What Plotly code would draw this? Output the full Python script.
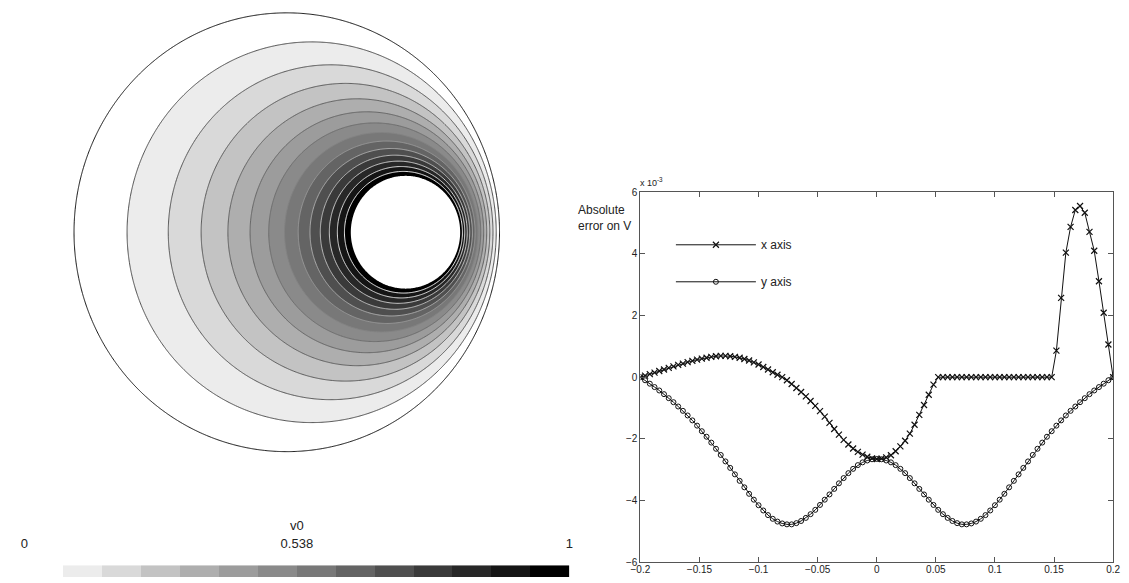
import numpy as np
import plotly.graph_objects as go

# ---------------- right panel data (error values in units of 1e-3) ----------------
x_pos = [-0.200, -0.196, -0.192, -0.188, -0.184, -0.180, -0.176, -0.172, -0.168, -0.164,
         -0.160, -0.156, -0.152, -0.148, -0.144, -0.140, -0.136, -0.132, -0.128, -0.124,
         -0.120, -0.116, -0.112, -0.108, -0.104, -0.100, -0.096, -0.092, -0.088, -0.084,
         -0.080, -0.076, -0.072, -0.068, -0.064, -0.060, -0.056, -0.052, -0.048, -0.044,
         -0.040, -0.036, -0.032, -0.028, -0.024, -0.020, -0.016, -0.012, -0.008, -0.004,
         0.000, 0.004, 0.008, 0.012, 0.016, 0.020, 0.024, 0.028, 0.032, 0.036,
         0.040, 0.044, 0.048, 0.052, 0.056, 0.060, 0.064, 0.068, 0.072, 0.076,
         0.080, 0.084, 0.088, 0.092, 0.096, 0.100, 0.104, 0.108, 0.112, 0.116,
         0.120, 0.124, 0.128, 0.132, 0.136, 0.140, 0.144, 0.148, 0.152, 0.156,
         0.160, 0.164, 0.168, 0.172, 0.176, 0.180, 0.184, 0.188, 0.192, 0.196,
         0.200]

err_x_axis = [0.00, 0.05, 0.10, 0.15, 0.20, 0.25, 0.30, 0.35, 0.40, 0.44,
              0.49, 0.53, 0.57, 0.60, 0.63, 0.66, 0.68, 0.69, 0.69, 0.68,
              0.66, 0.63, 0.59, 0.54, 0.48, 0.41, 0.33, 0.25, 0.16, 0.08,
              0.00, -0.10, -0.22, -0.35, -0.48, -0.62, -0.77, -0.93, -1.10, -1.28,
              -1.48, -1.68, -1.86, -2.03, -2.18, -2.31, -2.42, -2.51, -2.58, -2.63,
              -2.65, -2.64, -2.60, -2.53, -2.40, -2.24, -2.06, -1.83, -1.54, -1.22,
              -0.90, -0.57, -0.24, 0.00, 0.00, 0.00, 0.00, 0.00, 0.00, 0.00,
              0.00, 0.00, 0.00, 0.00, 0.00, 0.00, 0.00, 0.00, 0.00, 0.00,
              0.00, 0.00, 0.00, 0.00, 0.00, 0.00, 0.00, 0.00, 0.86, 2.57,
              4.04, 4.87, 5.42, 5.55, 5.33, 4.71, 4.10, 3.11, 2.09, 1.06,
              0.00]

err_y_axis = [0.00, -0.10, -0.21, -0.32, -0.43, -0.55, -0.68, -0.81, -0.95, -1.09,
              -1.24, -1.40, -1.57, -1.75, -1.93, -2.12, -2.32, -2.52, -2.73, -2.94,
              -3.15, -3.36, -3.57, -3.78, -3.97, -4.15, -4.32, -4.47, -4.59, -4.68,
              -4.74, -4.77, -4.77, -4.73, -4.66, -4.56, -4.44, -4.30, -4.14, -3.97,
              -3.80, -3.62, -3.44, -3.27, -3.11, -2.97, -2.85, -2.76, -2.70, -2.66,
              -2.65, -2.66, -2.70, -2.76, -2.85, -2.97, -3.11, -3.27, -3.44, -3.62,
              -3.80, -3.97, -4.14, -4.30, -4.44, -4.56, -4.66, -4.73, -4.77, -4.77,
              -4.74, -4.68, -4.59, -4.47, -4.32, -4.15, -3.97, -3.78, -3.57, -3.36,
              -3.15, -2.94, -2.73, -2.52, -2.32, -2.12, -1.93, -1.75, -1.57, -1.40,
              -1.24, -1.09, -0.95, -0.81, -0.68, -0.55, -0.43, -0.32, -0.21, -0.10,
              0.00]

series_names = ["x axis", "y axis"]
x_ticks = [-0.2, -0.15, -0.1, -0.05, 0, 0.05, 0.1, 0.15, 0.2]
y_ticks = [-6, -4, -2, 0, 2, 4, 6]

# ---------------- left panel: v0 field between eccentric circles ----------------
outer_radius = 1.0
inner_center = 0.558
inner_radius = 0.257
n_bands = 14
band_greys = ["#ffffff", "#ececec", "#d9d9d9", "#c3c3c3", "#aeaeae", "#9c9c9c", "#8a8a8a",
              "#787878", "#646464", "#4f4f4f", "#3a3a3a", "#272727", "#151515", "#000000"]
cbar_tick_vals = [0, 0.5, 1]
cbar_tick_text = ["0", "0.538", "1"]
cbar_title = "v0"

FONT = "Liberation Sans, Arial, sans-serif"

# Bipolar (Apollonius) potential: harmonic, 0 on outer circle, 1 on inner circle
s = (outer_radius ** 2 + inner_center ** 2 - inner_radius ** 2) / inner_center
p = (s - np.sqrt(s * s - 4 * outer_radius ** 2)) / 2
q = outer_radius ** 2 / p
g = np.linspace(-1.02, 1.02, 481)
X, Y = np.meshgrid(g, g)
phi = np.log(np.hypot(X - p, Y) / np.hypot(X - q, Y))
phi_out = np.log((outer_radius + p) / (outer_radius + q))
xi = inner_center - inner_radius
phi_in = np.log(abs(xi - p) / abs(xi - q))
v0 = np.clip((phi - phi_out) / (phi_in - phi_out), -1.0, 3.0).astype(np.float32)

cs = 1.0 / n_bands
fill_colors = ["#ffffff"] + band_greys + ["#ffffff"]
nfill = len(fill_colors)
fill_scale = [[j / (nfill - 1), c] for j, c in enumerate(fill_colors)]

fig = go.Figure()
fig.add_trace(go.Contour(
    x=g, y=g, z=v0, xaxis="x", yaxis="y",
    contours=dict(start=0, end=1, size=cs, coloring="fill", showlines=False),
    colorscale=fill_scale, showscale=False, hoverinfo="skip", line=dict(width=0),
))
fig.add_trace(go.Contour(
    x=g, y=g, z=v0, xaxis="x", yaxis="y",
    contours=dict(start=0, end=1 - cs, size=cs, coloring="lines"),
    colorscale=[[0, "#111111"], [1 / (n_bands - 1), "#4a4a4a"], [0.45, "#6a6a6a"],
                [0.7, "#b0b0b0"], [1, "#f4f4f4"]],
    showscale=False, hoverinfo="skip", line=dict(width=1),
))

# colour bar drawn as a heatmap strip
cb_scale = []
for k, c in enumerate(band_greys):
    cb_scale += [[k / n_bands, c], [(k + 1) / n_bands, c]]
fig.add_trace(go.Heatmap(
    z=[list(range(n_bands))], x=[(k + 0.5) / n_bands for k in range(n_bands)], y=[0],
    colorscale=cb_scale, zmin=-0.5, zmax=n_bands - 0.5, showscale=False,
    xaxis="x3", yaxis="y3", hoverinfo="skip",
))

# error curves
fig.add_trace(go.Scatter(
    x=x_pos, y=err_x_axis, name=series_names[0], mode="lines+markers",
    line=dict(color="#111111", width=1),
    marker=dict(symbol="x-thin-open", size=6, line=dict(width=1.2, color="#111111")),
    xaxis="x2", yaxis="y2", legendgroup="a",
))
fig.add_trace(go.Scatter(
    x=x_pos, y=err_y_axis, name=series_names[1], mode="lines+markers",
    line=dict(color="#111111", width=1),
    marker=dict(symbol="circle-open", size=5, line=dict(width=1, color="#333333")),
    xaxis="x2", yaxis="y2", legendgroup="b",
))

W, H = 1129, 583
axis_style = dict(showline=True, linecolor="#555555", linewidth=1, mirror="ticks",
                  ticks="inside", ticklen=5, tickcolor="#555555", showgrid=False,
                  zeroline=False, tickfont=dict(family=FONT, size=10, color="#222222"))

fig.update_layout(
    width=W, height=H, margin=dict(l=0, r=0, t=0, b=0),
    paper_bgcolor="white", plot_bgcolor="white",
    font=dict(family=FONT, color="#222222"),
    xaxis=dict(domain=[(281 - 1.02 * 216) / W, (281 + 1.02 * 216) / W], range=[-1.02, 1.02],
               visible=False),
    yaxis=dict(domain=[1 - (231 + 1.02 * 224) / H, 1 - (231 - 1.02 * 224) / H],
               range=[-1.02, 1.02], visible=False),
    xaxis3=dict(domain=[14.5 / W, 568 / W], range=[0, 1], anchor="y3", side="top",
                tickvals=cbar_tick_vals, ticktext=cbar_tick_text, ticks="",
                showline=False, showgrid=False, zeroline=False, ticklabelstandoff=14,
                tickfont=dict(family=FONT, size=13, color="#222222"),
                title=dict(text=cbar_title, standoff=2, font=dict(family=FONT, size=13))),
    yaxis3=dict(domain=[0, 12 / H], range=[-0.5, 0.5], anchor="x3", visible=False),
    xaxis2=dict(domain=[640 / W, 1120 / W], range=[-0.2, 0.2], anchor="y2",
                tickvals=x_ticks, ticklabelstandoff=-2, **axis_style),
    yaxis2=dict(domain=[1 - 568 / H, 1 - 190 / H], range=[-6, 6], anchor="x2",
                tickvals=y_ticks, **axis_style),
    showlegend=True,
    legend=dict(x=671 / W, y=1 - 229 / H, xanchor="left", yanchor="top",
                bgcolor="rgba(0,0,0,0)", itemwidth=80, tracegroupgap=18,
                font=dict(family=FONT, size=12, color="#222222")),
    annotations=[
        dict(text="x 10<sup>-3</sup>", xref="paper", yref="paper", x=638 / W, y=1 - 188 / H,
             xanchor="left", yanchor="bottom", showarrow=False,
             font=dict(family=FONT, size=9, color="#222222")),
        dict(text="Absolute<br>error on V", xref="paper", yref="paper", x=575 / W, y=1 - 199 / H,
             xanchor="left", yanchor="top", align="left", showarrow=False,
             font=dict(family=FONT, size=12, color="#222222")),
    ],
)

fig.write_html("out.html",
               config={"displayModeBar": False},
               post_script="document.body.style.margin='0px';"
                           "document.body.style.overflow='hidden';")
